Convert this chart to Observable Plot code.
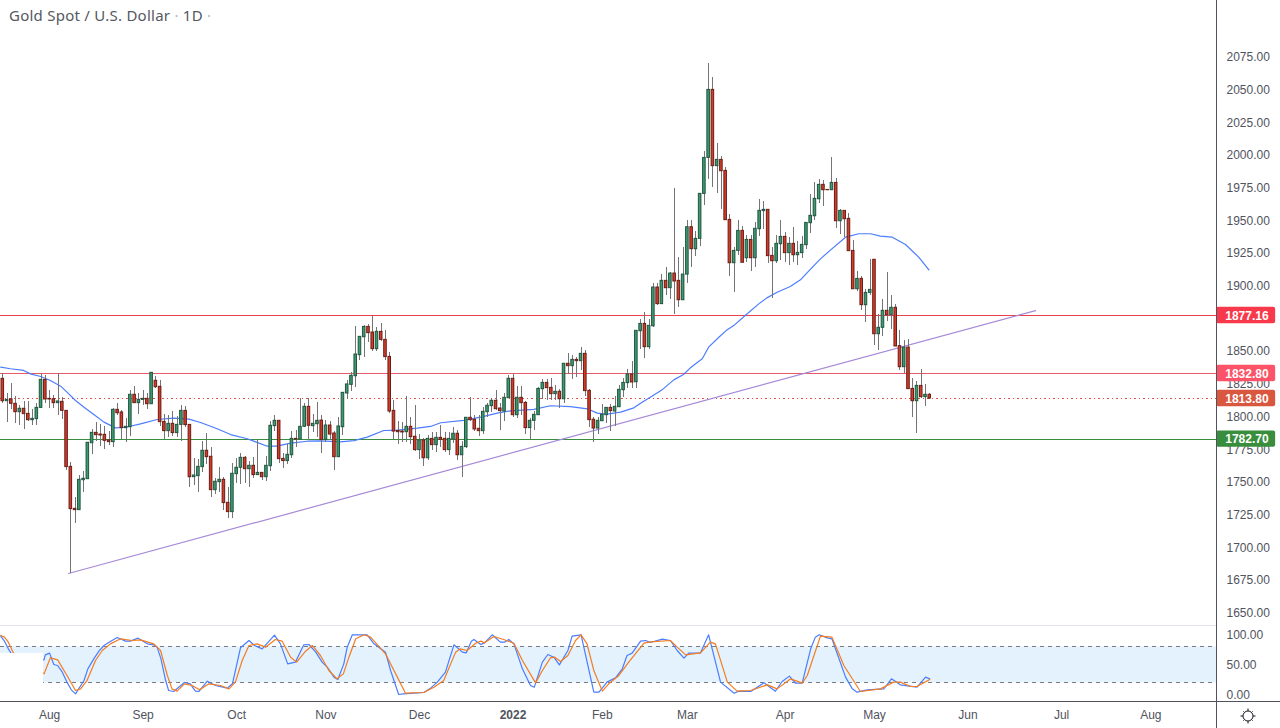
<!DOCTYPE html>
<html>
<head>
<meta charset="utf-8">
<script src="https://cdn.jsdelivr.net/npm/d3@7"></script>
<script src="https://cdn.jsdelivr.net/npm/@observablehq/plot@0.6"></script>
<style>
html,body{margin:0;padding:0;background:#fff;overflow:hidden}
#wrap{position:relative;width:1280px;height:728px;overflow:hidden;font-family:"Liberation Sans",sans-serif}
#wrap>svg{position:absolute;left:0}
#title{position:absolute;left:9px;top:5px;font:15px "Noto Sans",sans-serif;color:#55585f;letter-spacing:.25px;white-space:pre}
#title span{color:#b2b5be}
</style>
</head>
<body>
<div id="wrap"><div id="title">Gold Spot / U.S. Dollar <span>·</span> 1D <span>·</span></div></div>
<script>
const opens = [
1828.8,1811.7,1813,1809.7,1803.3,1805.9,1802,1797.2,1798,1806.6,
1828,1813.5,1813.2,1810.2,1811.2,1804.3,1761.5,1729.4,1728.4,1751.3,
1752.1,1779.6,1787.5,1786.2,1786,1781.7,1780.4,1805.1,1803.1,1791.1,
1791.8,1816.6,1810.2,1812.7,1813.5,1809.4,1827.3,1822.7,1795.9,1788.8,
1794.4,1787.3,1793.6,1804.3,1793.6,1753.6,1754.4,1761.3,1773.8,1769.2,
1743.7,1749.8,1751.6,1734,1726.9,1755.9,1760.8,1768.4,1759.7,1762.3,
1755.2,1756.9,1753.6,1762,1792.6,1796.7,1767.6,1765.9,1770.4,1782.9,
1782.4,1792.1,1807.4,1792.6,1794.1,1796.9,1782.2,1793.1,1787,1768.9,
1791.8,1817.6,1824.2,1830.8,1846.9,1860.6,1868.5,1864.2,1851.5,1864.7,
1858.6,1845.6,1804.3,1789,1788.5,1788,1792.1,1784.5,1774.3,1781.7,
1768.1,1782.9,1778.1,1783.7,1782.9,1774.3,1782.4,1786.8,1770.4,1776.6,
1799,1797.5,1790.6,1788.8,1803.3,1807.9,1812,1806.1,1803.8,1814,
1828.8,1801,1814.3,1810.4,1791.1,1796.7,1801,1820.9,1825.7,1821.9,
1817.1,1818.9,1813.2,1840.3,1838.5,1843.3,1842.3,1847.9,1819.6,1797.5,
1790.8,1796.4,1801,1806.6,1803.8,1807.1,1820.1,1825.5,1832.1,1826.2,
1865.2,1870.8,1853,1869,1898.6,1885.9,1903.7,1898.1,1909.3,1903.7,
1888.9,1908.5,1944.7,1927.9,1935.8,1970.2,1997.7,2049.7,1991.4,1996.2,
1987.8,1950.3,1917.2,1926.6,1941.9,1921,1935,1921,1943.2,1957,
1958,1922.8,1918.7,1931.7,1937.3,1924.9,1932,1923.3,1924.9,1931,
1947.8,1953.1,1966.1,1977.1,1973.2,1973,1978.6,1949.3,1957.2,1951.1,
1926.6,1897.3,1905.2,1885.1,1894.5,1919.8,1862.9,1867.8,1880.8,1877.5,
1883.1,1853.8,1837.7,1852.7,1821.1,1811.7,1823.4,1814.8,1816.6];
const closes = [
1811.7,1812.7,1809.7,1803.3,1805.9,1801.8,1797.2,1798.2,1806.6,1828,
1813,1813,1810.2,1811.5,1804.3,1761.3,1729.2,1728.4,1751.6,1752.4,
1779.9,1787.5,1785.7,1785.5,1781.4,1780.4,1805.1,1802.5,1791.1,1792.1,
1816.6,1810.2,1812.7,1813.5,1809.4,1833.4,1822.4,1795.7,1788.8,1794.4,
1787.3,1793.6,1804.3,1793.4,1753.6,1754.9,1761.5,1773.8,1768.9,1743.7,
1750.1,1751.6,1733.8,1726.9,1756.2,1760.8,1768.4,1759.7,1762.3,1755.2,
1756.9,1753.6,1762.3,1792.9,1796.7,1767.4,1765.9,1770.7,1782.9,1782.4,
1792.1,1807.4,1792.9,1794.4,1796.7,1782.2,1793.1,1786.2,1768.9,1792.4,
1818.1,1824.5,1831.1,1847.4,1860.9,1868.5,1863.7,1851.5,1864.7,1858.6,
1845.4,1803.8,1788.5,1788,1787.8,1792.1,1784.2,1774.3,1781.7,1768.1,
1782.9,1778.1,1783.7,1782.2,1774.3,1782.9,1786.8,1770.4,1776.8,1799,
1797.2,1790.1,1788.8,1803.6,1808.2,1812,1805.6,1804.1,1814.3,1828.8,
1801,1814.3,1810.2,1791.1,1796.7,1801.3,1821.1,1825.7,1821.7,1817.1,
1818.9,1813.2,1840.3,1838.5,1843.3,1842.3,1847.9,1819.4,1797.2,1790.8,
1796.7,1801.3,1806.6,1804.1,1807.4,1820.4,1825.7,1832.1,1826,1865.5,
1870.8,1853,1869.3,1898.6,1885.9,1903.7,1898.1,1909.3,1903.2,1888.9,
1908.5,1944.7,1927.9,1935.8,1970.2,1997.7,2049.7,1991.4,1996.2,1987.5,
1950.1,1917.2,1926.6,1941.9,1917.5,1935,1921,1943.5,1957.2,1958,
1922.6,1918.7,1932,1937.3,1924.9,1932,1923.3,1925.1,1931.2,1948,
1953.4,1966.4,1977.1,1973,1973,1978.6,1949.3,1957.2,1950.8,1926.4,
1897.3,1905.2,1885.1,1894.5,1896.8,1862.9,1867.8,1880.8,1877.5,1883.1,
1853.5,1837.7,1852.7,1820.9,1811.7,1823.4,1814.8,1816.6,1813.8];
const highs = [
1832.6,1817.3,1825.5,1815.3,1808.4,1811.7,1811.5,1805.1,1810.2,1832.6,
1831.3,1819.9,1816.1,1832.6,1814.8,1804.3,1765.1,1737.8,1754.9,1758,
1779.9,1789.8,1795.4,1793.9,1792.4,1788.8,1805.9,1809.7,1804.6,1798.7,
1819.9,1822.9,1817.3,1819.9,1817.8,1833.4,1830.6,1827.5,1801.5,1800.8,
1803.8,1800,1808.4,1807.9,1793.6,1768.1,1766.9,1780.9,1786.8,1776,
1752.4,1761.3,1753.6,1746,1764.3,1767.6,1772,1769.4,1765.9,1768.9,
1781.7,1757.4,1769.4,1796.2,1800.8,1796.7,1771.5,1778.6,1788.5,1789.3,
1813.5,1809.7,1813.5,1801.5,1810.4,1800.8,1796.9,1796.4,1788.8,1799.5,
1818.1,1827.5,1833.9,1868.8,1860.9,1869.6,1870.3,1876.7,1868.3,1870.8,
1865.7,1848.7,1812.2,1796.2,1795.7,1815.3,1799,1808.4,1786,1782.9,
1785.5,1787.5,1787.5,1792.9,1788,1788,1791.3,1789.3,1781.1,1799.5,
1814.3,1800.8,1800.8,1806.6,1809.7,1813.5,1819.9,1809.7,1817.3,1831.3,
1832.1,1822.9,1822.9,1811.5,1798.7,1803.8,1822.4,1828.3,1828,1828.8,
1823.7,1820.4,1840.3,1847.9,1846.6,1844.8,1853,1850.5,1820.4,1799,
1799,1809.2,1807.1,1809.2,1815.3,1823.4,1828.8,1835.7,1842,1865.5,
1873.9,1879.5,1873.9,1901.4,1901.4,1908.5,1913.6,1910.3,1974,1921.3,
1929.4,1949.8,1949.8,1941.4,1970.2,2002.6,2069.6,2058.9,2008.4,1998.7,
1990.6,1954.4,1929.4,1949.8,1945.2,1938.4,1938.4,1948.3,1965.9,1964.3,
1958,1929.4,1938.4,1949.8,1940.9,1937.1,1944.2,1933.8,1937.6,1948,
1969.4,1979.1,1980.9,1980.4,1973.2,1998,1981.9,1958.2,1957.2,1954.9,
1934.5,1910.8,1907,1896.8,1920,1919.8,1878,1889.4,1910.1,1892.5,
1885.6,1865.7,1858.1,1858.9,1828.8,1826.8,1835.7,1824.5,1817.8];
const lows = [
1809.7,1795.7,1805.4,1794.9,1793.1,1790.3,1796.4,1793.1,1793.1,1805.9,
1809.7,1806.1,1806.4,1800.8,1797.7,1758.7,1679.7,1718.5,1728.1,1741.9,
1752.1,1771,1781.1,1777.1,1774.8,1777.8,1776.6,1801,1782.2,1780.4,
1784.7,1809.7,1801.5,1808.4,1805.4,1809.4,1821.1,1792.4,1782.2,1784.2,
1784.7,1784.2,1781.1,1791.3,1746,1747.3,1741.9,1757.4,1763.3,1737.8,
1740.4,1742.2,1728.1,1722.3,1722.3,1748.5,1748,1748.5,1746,1752.4,
1754.9,1751.1,1750.6,1758.2,1788.8,1763.8,1760.5,1763.3,1767.6,1776.6,
1782.2,1791.3,1781.7,1788,1784.2,1771.5,1780.4,1781.7,1758.7,1768.9,
1785.5,1812.7,1819.4,1821.9,1842.8,1845.4,1856.8,1849.9,1849.9,1857.6,
1842.8,1802,1782.2,1778.6,1780.4,1780.4,1778.6,1773.5,1766.9,1762,
1766.4,1774,1772.7,1776.6,1772.7,1770.2,1779.1,1766.4,1753.6,1775.8,
1796.2,1788.8,1784.7,1786.2,1799,1803.3,1804.6,1789.3,1796.4,1814,
1799,1798.2,1800.8,1786.2,1782.2,1789.3,1800.8,1812.7,1812.2,1812.2,
1812.2,1805.9,1809.7,1832.1,1828.5,1830.1,1835.2,1815.3,1791.3,1780.4,
1786.2,1796.2,1794.4,1788.8,1792.4,1807.1,1814.8,1821.1,1821.7,1821.1,
1851.2,1844.6,1851,1868.3,1884.9,1885.9,1892.5,1889.4,1878,1883.6,
1888.9,1901.9,1914.2,1922.6,1930.2,1961.3,1981.2,1975.3,1970.2,1958.2,
1950.1,1907,1895,1923.1,1917.5,1917.5,1911.1,1914.2,1937.6,1943.2,
1916.7,1890.5,1916.7,1919.2,1918,1915.4,1918,1915.4,1920.5,1927.9,
1940.1,1949.8,1962.6,1960.8,1973,1972.8,1944,1939.1,1937.1,1926.4,
1897.3,1895.6,1881,1872.1,1892.5,1854.3,1850.5,1861.2,1872.9,1866.5,
1853.5,1835.2,1832.6,1820.9,1799.5,1787.3,1813.5,1807.6,1813];

// moving average: [bar index, price]
const maPoints = [[-0.5,1837.7],[1.8,1836.5],[4.9,1835.2],[6.5,1832.6],[8.9,1830.6],[11.2,1827.5],[13.6,1823.2],[15.1,1818.6],[17.1,1812.2],[19.1,1807.1],[21.4,1801.5],[23.8,1795.7],[26.5,1791.3],[28.9,1791.8],[32.4,1794.4],[36.3,1797.7],[40.2,1798.7],[43.8,1798],[46.5,1795.4],[50.4,1790.6],[53.6,1786.2],[57.5,1783],[62.2,1777.3],[64.5,1777.3],[67.7,1779.6],[71.6,1781.1],[74.7,1781.4],[79.4,1780.6],[82.6,1781.6],[85.7,1784.2],[89.6,1789.3],[92.8,1789.6],[97.5,1791.1],[100.6,1792.4],[103,1795.2],[108.4,1797],[112.4,1799.5],[116.3,1802.6],[119.4,1804.3],[124.9,1805.4],[128.8,1808.2],[133.5,1807.6],[137.5,1805.9],[139.8,1802.6],[142.1,1801.8],[145.3,1803.3],[148.4,1806.6],[150,1810.2],[154.9,1820],[157.8,1828],[160.1,1832.1],[161.7,1837.2],[164.5,1844.1],[166,1853],[168.4,1860.6],[170.3,1866.2],[171.9,1869.5],[174.6,1877.2],[177.8,1886.1],[179.7,1890.7],[182.1,1895],[185.2,1899.4],[187.6,1904.5],[189.8,1912.1],[192.3,1920.5],[194.7,1927.4],[198.2,1937.1],[201.3,1939.7],[204.1,1939.7],[206.4,1937.9],[209.2,1937.1],[212.3,1931.5],[215.4,1921.8],[217.8,1912.1]];

// stochastic %K and %D: [bar index, value]
const kPoints = [[-0.5,97.7],[0.4,89.4],[1.3,76.6],[2.3,65.5],[9.7,58.3],[10,66.6],[11,69.4],[12,50.5],[12.9,48.8],[14,37.7],[15.1,21.1],[16.1,8.3],[17.1,1.6],[19.1,23.8],[20,43.3],[21.4,59.9],[22.6,72.7],[23.8,82.2],[25.3,88.8],[26.9,95.5],[28.9,89.4],[30,89.4],[31.8,94.4],[34,84.9],[35.5,83.3],[36.3,79.4],[37.2,59.9],[38.3,23.8],[39,7.2],[40.2,5.5],[42.7,20.5],[44.1,18.3],[45.3,6.1],[46.1,5.5],[48.1,22.7],[50,15.5],[52.8,11.1],[54,18.3],[55.9,78.3],[57.9,90.5],[59.2,82.2],[61,76.6],[63.9,99.4],[65.3,84.9],[67,51.6],[68.8,54.4],[70.8,83.3],[72,83.8],[73.6,71.1],[75.1,54.4],[76.3,46.1],[77.9,29.4],[78.8,25.5],[80.2,51.6],[81,79.4],[82.2,100],[84.1,100],[85.7,100],[87.3,84.9],[90,71.1],[91.2,40.5],[93.1,0.5],[94.3,1.6],[99,3.8],[100.6,11.1],[102.2,21.1],[104.1,37.7],[106.1,83.3],[108.1,71.1],[109,69.9],[110.2,89.4],[110.8,92.2],[112.4,83.8],[113.3,86.6],[115.1,100],[117,87.7],[118,87.7],[119,92.2],[120.2,84.9],[122.2,43.3],[124.1,15.5],[125,12.7],[126.9,54.4],[128.2,67.2],[129.6,62.7],[130.9,49.9],[132.9,73.8],[133.9,97.7],[136,100],[139,4.4],[140.2,4.4],[142.1,21.1],[144.1,28.3],[145.7,43.3],[146.8,65.5],[148,69.4],[150,89.4],[151.2,90.5],[152.3,87.2],[155.1,92.7],[157,90.5],[158.6,73.8],[160.2,61.1],[161.3,69.4],[164.1,69.9],[166,100],[168.8,21.1],[172,2.7],[173.1,6.1],[175.9,5.5],[179,19.9],[181.7,6.1],[183.3,22.2],[185,31.1],[186.4,19.4],[188,19.4],[190,76.6],[191.1,96.1],[192,100],[193.9,94.9],[195,93.3],[198.2,29.4],[199.8,9.9],[200.9,4.4],[203.3,8.3],[207.2,9.9],[209,26.6],[211.1,16.6],[215,12.7],[217,29.4],[218,26.6]];
const dPoints = [[-0.5,98.8],[0.4,96.1],[1.3,87.7],[2.6,68.3],[9.7,34.9],[11.2,61.6],[12.9,58.3],[15.1,32.2],[17.1,7.2],[18.3,9.9],[19.8,23.8],[21.8,57.2],[23.4,73.8],[25.3,84.9],[27.7,93.3],[30.4,90.5],[32.4,91.6],[35.5,84.9],[37.1,73.8],[38.7,32.2],[39.8,9.9],[41,6.1],[42.7,18.3],[44.5,15.5],[46.3,8.3],[48.5,18.3],[51.2,15.5],[53.2,9.9],[54.7,21.1],[56.3,57.2],[57.9,82.2],[59.8,84.9],[61.8,79.4],[64.1,92.2],[65.7,89.4],[67.7,62.7],[69.1,54.4],[71.2,72.7],[72.8,82.2],[74.7,65.5],[76.7,40.5],[78.6,26.6],[80.1,34.9],[81.4,62.7],[83,93.3],[85,100],[86.5,96.1],[90,68.3],[92.4,34.9],[94.7,2.7],[99,3.8],[101.4,12.7],[103.7,23.8],[106.5,71.1],[107.6,76.6],[109.2,73.8],[111.2,86],[112.4,89.4],[113.3,86.6],[115.5,97.2],[117.8,92.2],[120.2,86],[122.2,57.2],[125.3,19.9],[126.9,40.5],[128.8,61.6],[129.8,62.7],[131.2,55.5],[132.9,65.5],[134.7,90.5],[136,100],[137.4,84.9],[139,40.5],[141,6.1],[142.5,18.3],[144.9,32.2],[147.2,54.4],[150.8,86],[152.3,88.3],[157,90.5],[158.6,79.4],[160.6,66.6],[164.1,69.9],[166.4,87.7],[167.6,84.9],[170.4,21.1],[172.7,6.1],[175.9,7.2],[179.8,16.6],[182.1,9.9],[185.3,26.6],[188,19.4],[189.2,32.2],[192.3,97.7],[195,96.1],[197.8,48.8],[201.7,5.5],[206.4,9.9],[209.5,21.1],[211.1,21.1],[213.5,13.8],[215,13.8],[218,25.5]];

const monthTicks = [11,33,55,76,98,141,161,184,205,227,249,270];
const monthLabels = ["Aug","Sep","Oct","Nov","Dec","Feb","Mar","Apr","May","Jun","Jul","Aug"];
const yearTick = [120];
const priceTicks = [1650,1675,1700,1725,1750,1775,1800,1825,1850,1900,1925,1950,1975,2000,2025,2050,2075];
const oscTicks = [0,50,100];
const levels = [1877.16,1832.80,1813.80,1782.70];
const levelFills = ["#f7394b","#fc5368","#d9563f","#388e3c"];
const trendIdx = [15.45,242.9];
const trendVal = [1680,1881];

const fontFamily = '"Liberation Sans",sans-serif';
const textColor = "#50535e";
const axisColor = "#50535e";
const xDomain = [-0.54,285.44];
const bars = d3.range(opens.length);
const up = i => closes[i] >= opens[i];
const hw = 0.3;
const xPanelEnd = 301;

const main = Plot.plot({
  width:1280,height:625,marginLeft:0,marginRight:64,marginTop:0,marginBottom:0,
  style:{background:"transparent",fontFamily,fontSize:"12px"},
  x:{domain:xDomain,range:[0,1216],axis:null},
  y:{domain:[1650,2075],range:[612.2,56.3],axis:null},
  marks:[
    Plot.axisY({anchor:"right",ticks:priceTicks,tickSize:0,tickPadding:10,tickFormat:d3.format(".2f"),fill:textColor,fontSize:12,dy:0.5,label:null}),
    Plot.ruleY(levels.filter(v=>v!==1813.80),{stroke:(d)=>d===1782.70?"#388e3c":(d===1877.16?"#e8404f":"#e8596a"),strokeWidth:1,shapeRendering:"crispEdges"}),
    Plot.ruleY([1813.80],{stroke:"#e0503f",strokeWidth:1,strokeDasharray:"1.5,3",shapeRendering:"crispEdges"}),
    Plot.line(maPoints,{x:d=>d[0],y:d=>d[1],stroke:"#4c7dff",strokeWidth:1.2,curve:"linear"}),
    Plot.line(trendIdx.map((x,k)=>({x,y:trendVal[k]})),{x:"x",y:"y",stroke:"#a68ad8",strokeWidth:1.2}),
    Plot.ruleX(bars,{x:i=>i,y1:i=>lows[i],y2:i=>highs[i],stroke:"#747476",strokeWidth:1,shapeRendering:"crispEdges"}),
    Plot.rect(bars,{x1:i=>i-hw,x2:i=>i+hw,y1:i=>opens[i],y2:i=>closes[i],
      fill:i=>up(i)?"#3f9a70":"#d23c2c",stroke:i=>up(i)?"#1f5540":"#6a1d14",strokeWidth:1}),
    Plot.rect(levels,{x1:285.44,x2:299.35,y1:d=>d-6.3,y2:d=>d+6.3,fill:(d,k)=>levelFills[k],rx:2}),
    Plot.text(levels,{x:292.6,y:d=>d,text:d=>d3.format(".2f")(d),fill:"#fff",fontSize:12,fontWeight:600,textAnchor:"middle",dy:0.5}),
    Plot.ruleX([xDomain[1]],{stroke:axisColor,strokeWidth:1})
  ]
});
main.style.top = "0px";

const osc = Plot.plot({
  width:1280,height:103,marginLeft:0,marginRight:64,marginTop:0,marginBottom:27,
  style:{background:"transparent",fontFamily,fontSize:"12px"},
  x:{domain:xDomain,range:[0,1216],axis:null},
  y:{domain:[0,100],range:[69.3,9.3],axis:null},
  marks:[
    Plot.rect([0],{x1:xDomain[0],x2:xDomain[1],y1:20,y2:80,fill:"#e3f2fd"}),
    Plot.ruleY([20,80],{stroke:"#787b86",strokeWidth:1,strokeDasharray:"4,4",shapeRendering:"crispEdges"}),
    Plot.line(kPoints,{x:d=>d[0],y:d=>d[1],stroke:"#4a7dff",strokeWidth:1.2}),
    Plot.line(dPoints,{x:d=>d[0],y:d=>d[1],stroke:"#f57c1f",strokeWidth:1.2}),
    Plot.rect([0],{x1:xDomain[0],x2:9.6,y1:-3,y2:68.8,fill:"#fff"}),
    Plot.axisY({anchor:"right",ticks:oscTicks,tickSize:0,tickPadding:10,tickFormat:d3.format(".2f"),fill:textColor,fontSize:12,label:null}),
    Plot.axisX({ticks:monthTicks,tickSize:0,tickPadding:9,tickFormat:d=>monthLabels[monthTicks.indexOf(d)],fill:textColor,fontSize:12,label:null}),
    Plot.axisX({ticks:yearTick,tickSize:0,tickPadding:9,tickFormat:()=>"2022",fill:textColor,fontSize:12,fontWeight:700,label:null}),
    Plot.ruleY([-11.2],{x1:xDomain[0],x2:xPanelEnd,stroke:axisColor,strokeWidth:1,shapeRendering:"crispEdges"}),
    Plot.ruleY([115],{x1:xDomain[0],x2:xDomain[1],stroke:"#e0e3eb",strokeWidth:1,shapeRendering:"crispEdges"}),
    Plot.ruleX([xDomain[1]],{y1:120,y2:-60,stroke:axisColor,strokeWidth:1})
  ]
});
osc.style.top = "625px";
osc.style.overflow = "visible";

const wrap = document.getElementById("wrap");
wrap.appendChild(main);
wrap.appendChild(osc);

// settings gear in the corner
const ns = "http://www.w3.org/2000/svg";
const gear = document.createElementNS(ns,"svg");
gear.setAttribute("width","20");gear.setAttribute("height","20");gear.setAttribute("viewBox","-10 -10 20 20");
gear.style.cssText="position:absolute;left:1238px;top:706px";
const ring = document.createElementNS(ns,"circle");
ring.setAttribute("r","5");ring.setAttribute("fill","none");ring.setAttribute("stroke","#131722");
gear.appendChild(ring);
d3.range(8).forEach(k=>{
  const a=k*Math.PI/4, l=document.createElementNS(ns,"line");
  l.setAttribute("x1",5*Math.cos(a));l.setAttribute("y1",5*Math.sin(a));
  l.setAttribute("x2",(k%2?6.5:7.5)*Math.cos(a));l.setAttribute("y2",(k%2?6.5:7.5)*Math.sin(a));
  l.setAttribute("stroke","#131722");gear.appendChild(l);
});
wrap.appendChild(gear);
</script>
</body>
</html>
